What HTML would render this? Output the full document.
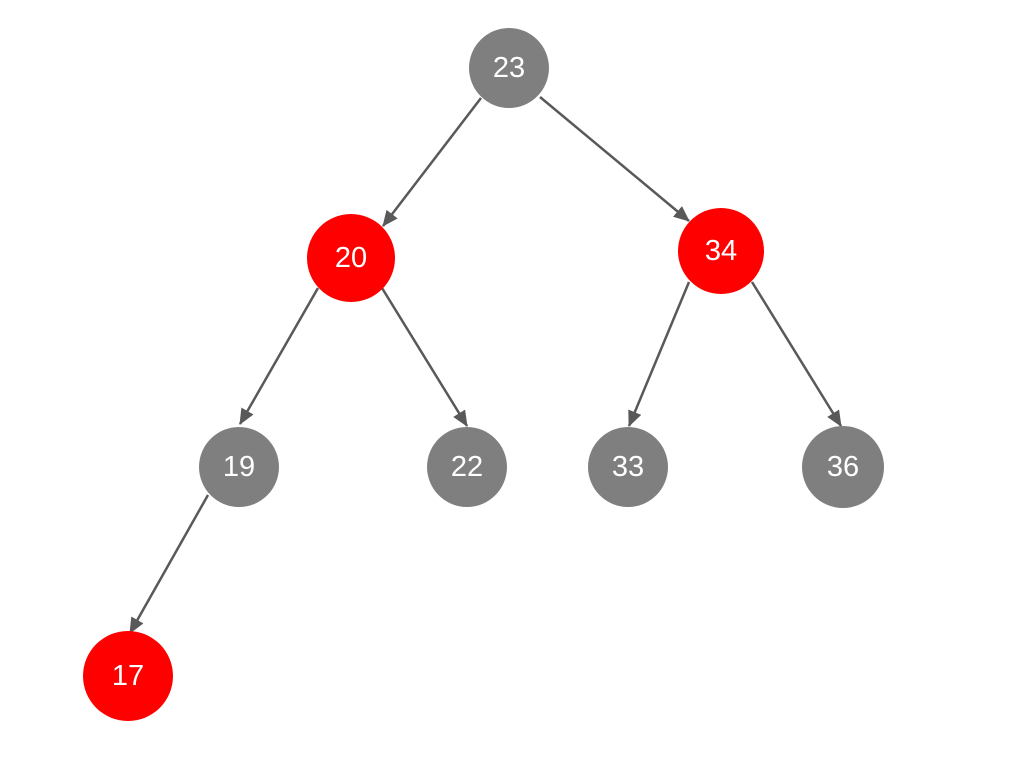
<!DOCTYPE html>
<html><head><meta charset="utf-8"><style>
html,body{margin:0;padding:0;background:#fff;width:1014px;height:758px;overflow:hidden}
text{font-family:"Liberation Sans",sans-serif;font-size:29px;fill:#fff;text-anchor:middle;dominant-baseline:central}
</style></head><body>
<svg width="1014" height="758" viewBox="0 0 1014 758" xmlns="http://www.w3.org/2000/svg">
<defs>
<marker id="b" markerWidth="16" markerHeight="14" refX="15" refY="7" orient="auto" markerUnits="userSpaceOnUse"><path d="M0,0 L16,7 L0,14 z" fill="#595959"/></marker></defs>
<g stroke="#595959" stroke-width="2.5" fill="none" marker-end="url(#b)">
<line x1="481" y1="98" x2="383" y2="226"/>
<line x1="540" y1="97" x2="689" y2="221"/>
<line x1="318" y1="288" x2="240" y2="424"/>
<line x1="382" y1="288" x2="467" y2="426"/>
<line x1="689" y1="282" x2="629" y2="426"/>
<line x1="752" y1="282" x2="841" y2="426"/>
<line x1="208" y1="495" x2="130" y2="633"/>
</g>
<circle cx="509" cy="68" r="40" fill="#7f7f7f"/><text x="509" y="68">23</text>
<circle cx="351" cy="258" r="44" fill="#ff0000"/><text x="351" y="258">20</text>
<circle cx="721" cy="251" r="43" fill="#ff0000"/><text x="721" y="251">34</text>
<circle cx="239" cy="467" r="40" fill="#7f7f7f"/><text x="239" y="467">19</text>
<circle cx="467" cy="467" r="40" fill="#7f7f7f"/><text x="467" y="467">22</text>
<circle cx="628" cy="467" r="40" fill="#7f7f7f"/><text x="628" y="467">33</text>
<circle cx="843" cy="467" r="41" fill="#7f7f7f"/><text x="843" y="467">36</text>
<circle cx="128" cy="676" r="45" fill="#ff0000"/><text x="128" y="676">17</text>
</svg>
</body></html>
